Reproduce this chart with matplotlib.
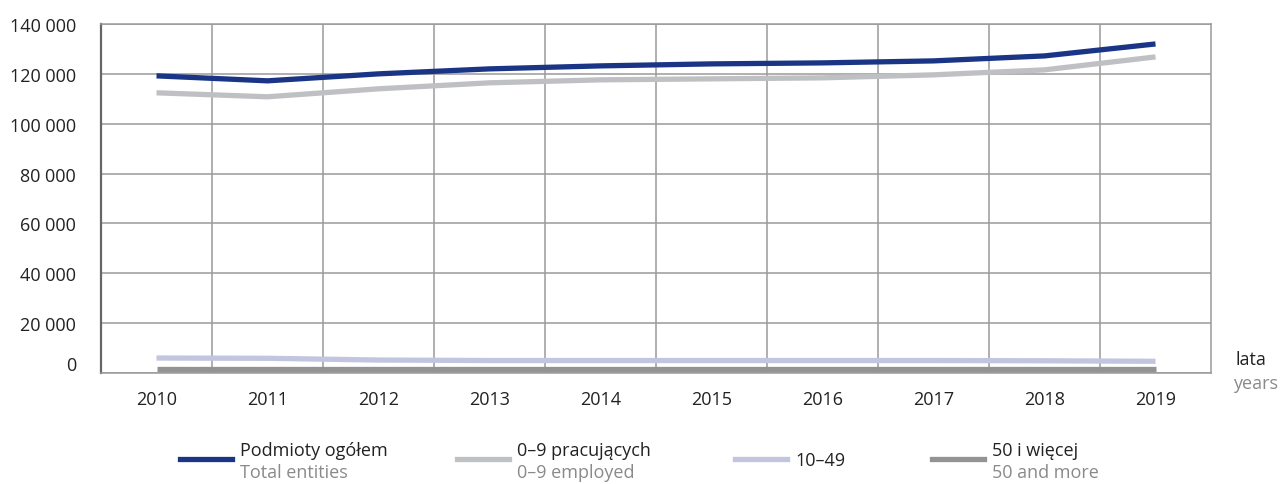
import matplotlib.pyplot as plt
import matplotlib.transforms as mtransforms
from matplotlib.lines import Line2D
from matplotlib.ticker import FuncFormatter

plt.rcParams['font.family'] = ['Open Sans', 'DejaVu Sans']

years = ["2010", "2011", "2012", "2013", "2014", "2015", "2016", "2017", "2018", "2019"]
total = [119200, 117200, 120000, 122000, 123200, 124000, 124400, 125200, 127200, 132000]
micro = [112400, 110800, 114000, 116400, 117600, 118000, 118400, 119600, 121600, 126800]
small = [6000, 5900, 5200, 5000, 5000, 5000, 5000, 5000, 4900, 4700]
large = [1700, 1700, 1700, 1700, 1700, 1700, 1700, 1700, 1700, 1700]

labels_pl = ["Podmioty ogółem", "0–9 pracujących", "10–49", "50 i więcej"]
labels_en = ["Total entities", "0–9 employed", "", "50 and more"]

c_total = "#1b3586"
c_micro = "#bfc0c3"
c_small = "#c2c5e0"
c_large = "#939394"
colors = [c_total, c_micro, c_small, c_large]

fig = plt.figure(figsize=(12.85, 4.85), dpi=100)
ax = fig.add_axes([101/1285, 1 - 374/485, 1110/1285, 349/485])

x = range(len(years))
for series, col in zip([large, small, micro, total], [c_large, c_small, c_micro, c_total]):
    ax.plot(x, series, color=col, lw=3.8, solid_capstyle='butt', zorder=3)

ax.set_xlim(-0.5, len(years) - 0.5)
ax.set_ylim(0, 140000)
ax.set_yticks(range(0, 140001, 20000))
ax.yaxis.set_major_formatter(FuncFormatter(lambda v, p: f"{int(v):,}".replace(",", " ")))
ax.set_xticks(list(x))
ax.set_xticklabels(years)
ax.set_xticks([i + 0.5 for i in range(len(years) - 1)], minor=True)

ax.grid(axis='y', which='major', color='#9a9a9a', lw=1.1)
ax.grid(axis='x', which='minor', color='#9a9a9a', lw=1.1)
ax.tick_params(axis='both', which='both', length=0, labelsize=13, colors='#222222')
ax.tick_params(axis='y', pad=18)
ax.tick_params(axis='x', pad=12)
for s in ['top', 'right', 'bottom']:
    ax.spines[s].set_color('#9a9a9a')
    ax.spines[s].set_linewidth(1.1)
ax.spines['left'].set_color('#666666')
ax.spines['left'].set_linewidth(1.6)

# the "0" label sits a bit above the baseline in the original
lbl0 = ax.get_yticklabels()[0]
lbl0.set_transform(lbl0.get_transform() + mtransforms.ScaledTranslation(0, 10/100, fig.dpi_scale_trans))

fig.text(1251/1285, 1 - 360/485, "lata", ha='center', va='center', fontsize=13, color='#222222')
fig.text(1256/1285, 1 - 384/485, "years", ha='center', va='center', fontsize=13, color='#8a8a8a')

# legend
hx = [180, 457, 735, 932]
for i in range(4):
    x0 = hx[i] / 1285
    y0 = 1 - 460/485
    fig.add_artist(Line2D([x0, x0 + 52/1285], [y0, y0], color=colors[i], lw=3.8,
                          transform=fig.transFigure))
    if labels_en[i]:
        fig.text(x0 + 60/1285, 1 - 451/485, labels_pl[i], va='center', fontsize=13, color='#222222')
        fig.text(x0 + 60/1285, 1 - 473/485, labels_en[i], va='center', fontsize=13, color='#8a8a8a')
    else:
        fig.text(x0 + 60/1285, 1 - 461/485, labels_pl[i], va='center', fontsize=13, color='#222222')

fig.savefig("out.png", dpi=100)
